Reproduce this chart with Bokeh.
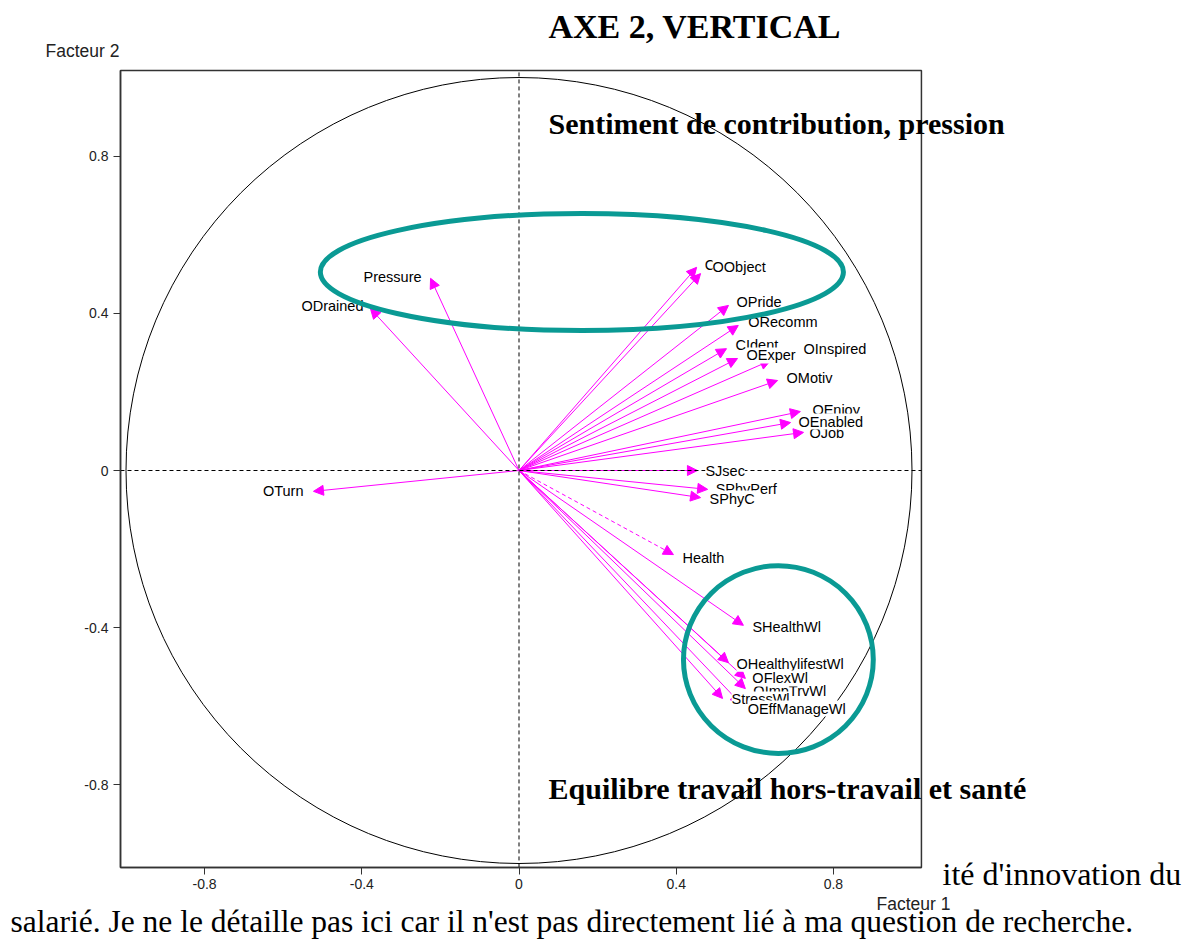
from bokeh.plotting import figure
from bokeh.models import (ColumnDataSource, Arrow, NormalHead, Label,
                          BoxAnnotation, FixedTicker, Range1d)
from bokeh.core.properties import value
from bokeh.embed import file_html
from bokeh.resources import INLINE

# ---------------- data (loadings on factor 1 / factor 2) ----------------
var_names = ["Pressure", "ODrained", "OTurn", "CObject", "OObject", "OPride",
             "ORecomm", "CIdent", "OExper", "OInspired", "OMotiv", "OEnjoy",
             "OJob", "OEnabled", "SJsec", "SPhyPerf", "SPhyC", "Health",
             "SHealthWl", "OImpTrvWl", "OHealthylifestWl", "OFlexWl",
             "StressWl", "OEffManageWl"]
factor1 = [-0.225, -0.378, -0.523, 0.452, 0.462, 0.533,
           0.558, 0.528, 0.556, 0.640, 0.658, 0.716,
           0.724, 0.691, 0.454, 0.480, 0.462, 0.393,
           0.571, 0.576, 0.533, 0.576,
           0.518, 0.564]
factor2 = [0.489, 0.412, -0.053, 0.517, 0.501, 0.420,
           0.369, 0.310, 0.285, 0.280, 0.229, 0.150,
           0.097, 0.122, 0.000, -0.048, -0.069, -0.214,
           -0.394, -0.555, -0.489, -0.529,
           -0.580, -0.593]
dashed_var = ["Health"]

circle_radius = 1.0
axis_min_x, axis_max_x = -1.014, 1.024
axis_min_y, axis_max_y = -1.010, 1.018

tick_values = [-0.8, -0.4, 0, 0.4, 0.8]
tick_labels = ["-0.8", "-0.4", "0", "0.4", "0.8"]

group_names = ["Sentiment de contribution, pression",
               "Equilibre travail hors-travail et santé"]
group_cx = [0.160, 0.660]
group_cy = [0.505, -0.481]
group_w = [1.331, 0.483]
group_h = [0.298, 0.478]

title_text = "AXE 2, VERTICAL"
body_right = "ité d'innovation du"
body_bottom = ("salarié. Je ne le détaille pas ici car il n'est pas "
               "directement lié à ma question de recherche.")
x_title = "Facteur 1"
y_title = "Facteur 2"

# ---------------- layout (label offsets in px) ----------------
label_dx = [-9, -7, -10, 8, 12, 8,
            10, 9, 9, 33, 9, 12,
            6, 8, 8, 8, 9, 9,
            9, 8, 8, 7,
            9, 7]
label_dy = [-1, -3, 0, -2, -7, -3,
            -3, -4, -3, -11, -3, -2,
            1, -1, 0, 0, 1, 3,
            2, 2, 1, 0,
            1, 5]

MAG = "#ff00ff"
TEAL = "#0a9a94"
PX = 393.0
X0, Y0 = 518.5, 470.0
W, H = 1200, 941


def px_x(px):
    return (px - X0) / PX


def px_y(py):
    return (Y0 - py) / PX


p = figure(width=W, height=H,
           x_range=Range1d(px_x(0), px_x(W)),
           y_range=Range1d(px_y(H), px_y(0)),
           output_backend="svg", toolbar_location=None,
           min_border=0)
p.title.visible = False
p.xgrid.visible = False
p.ygrid.visible = False
p.outline_line_color = None
p.background_fill_color = "white"

p.xaxis.fixed_location = axis_min_y
p.xaxis.bounds = (axis_min_x, axis_max_x)
p.yaxis.fixed_location = axis_min_x
p.yaxis.bounds = (axis_min_y, axis_max_y)
for ax in (p.xaxis, p.yaxis):
    ax.ticker = FixedTicker(ticks=tick_values)
    ax.major_label_overrides = {v: s for v, s in zip(tick_values, tick_labels)}
    ax.major_tick_out = 7
    ax.major_tick_in = 0
    ax.minor_tick_out = 0
    ax.minor_tick_in = 0
    ax.axis_line_color = "#333333"
    ax.axis_line_width = 1.5
    ax.major_tick_line_color = "#333333"
    ax.major_label_text_font = "Liberation Sans"
    ax.major_label_text_font_size = "14px"
    ax.major_label_text_color = "#222222"
    ax.major_label_standoff = 5

# chart box (top / right sides)
p.add_layout(BoxAnnotation(left=axis_min_x, right=axis_max_x,
                           bottom=axis_min_y, top=axis_max_y,
                           fill_alpha=0.0, line_color="#333333",
                           line_width=1.5, line_alpha=1.0, level="underlay"))

# dashed axes through origin
p.segment(x0=[0, axis_min_x], y0=[axis_min_y, 0],
          x1=[0, axis_max_x], y1=[axis_max_y, 0],
          line_color="black", line_dash="4 3", line_width=1)

# correlation circle
p.ellipse(x=[0], y=[0], width=[2 * circle_radius], height=[2 * circle_radius],
          fill_color=None, line_color="black", line_width=1)

# arrows
n = len(var_names)
solid_idx = [i for i in range(n) if var_names[i] not in dashed_var]
dash_idx = [i for i in range(n) if var_names[i] in dashed_var]
for idx, dash in ((solid_idx, "solid"), (dash_idx, "4 3")):
    src = ColumnDataSource(dict(
        x0=[0.0] * len(idx), y0=[0.0] * len(idx),
        x1=[factor1[i] for i in idx], y1=[factor2[i] for i in idx]))
    p.add_layout(Arrow(end=NormalHead(size=10, fill_color=MAG, line_color=MAG,
                                      line_width=1),
                       x_start="x0", y_start="y0", x_end="x1", y_end="y1",
                       source=src, line_color=MAG, line_width=1,
                       line_dash=dash, level="underlay"))

# variable labels (white background, later ones hide earlier ones)
for side, align in (("neg", "right"), ("pos", "left")):
    idx = [i for i in range(n) if (factor1[i] < 0) == (side == "neg")]
    src = ColumnDataSource(dict(
        x=[factor1[i] for i in idx], y=[factor2[i] for i in idx],
        text=[var_names[i] for i in idx],
        dx=[label_dx[i] for i in idx], dy=[label_dy[i] for i in idx]))
    p.text(x="x", y="y", text="text", x_offset="dx", y_offset="dy",
           source=src, text_align=align, text_baseline="middle",
           text_font=value("Liberation Sans"), text_font_size="14.5px",
           text_color="black", background_fill_color="white")

# teal group ellipses
p.ellipse(x=group_cx, y=group_cy, width=group_w, height=group_h,
          fill_color=None, line_color=TEAL, line_width=5)


def add_label(text, px, cy, size, font="Liberation Serif", style="normal",
              color="black"):
    p.add_layout(Label(x=px_x(px), y=px_y(cy), text=text,
                       text_baseline="middle", text_align="left",
                       text_font=font, text_font_style=style,
                       text_font_size=size, text_color=color))


add_label(title_text, 548, 26, "34px", style="bold")
add_label(group_names[0], 548, 123, "30px", style="bold")
add_label(group_names[1], 548, 788, "30px", style="bold")
add_label(body_right, 942, 873, "32px")
add_label(body_bottom, 10, 921, "31.5px")

add_label(y_title, 45, 50, "17.5px", font="Liberation Sans", color="#222222")
add_label(x_title, 876, 903, "17.5px", font="Liberation Sans", color="#222222")

open("out.html", "w").write(file_html(p, INLINE))
